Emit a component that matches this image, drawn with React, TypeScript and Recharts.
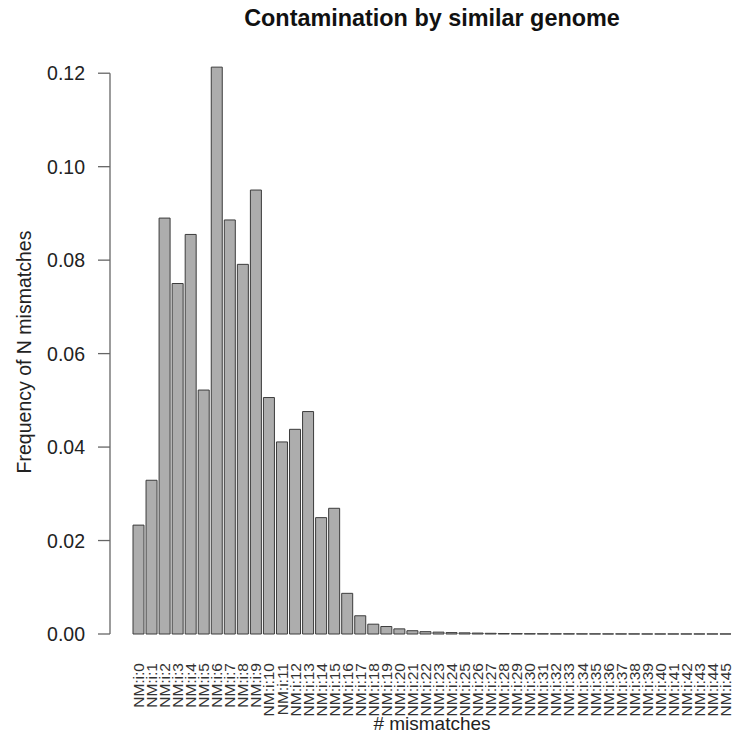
import React from 'react';
import { BarChart, Bar, XAxis, YAxis, Label } from 'recharts';

// NM:i:N tag counts, as a fraction of all reads
const categories = [
  'NM:i:0', 'NM:i:1', 'NM:i:2', 'NM:i:3', 'NM:i:4', 'NM:i:5', 'NM:i:6', 'NM:i:7',
  'NM:i:8', 'NM:i:9', 'NM:i:10', 'NM:i:11', 'NM:i:12', 'NM:i:13', 'NM:i:14', 'NM:i:15',
  'NM:i:16', 'NM:i:17', 'NM:i:18', 'NM:i:19', 'NM:i:20', 'NM:i:21', 'NM:i:22', 'NM:i:23',
  'NM:i:24', 'NM:i:25', 'NM:i:26', 'NM:i:27', 'NM:i:28', 'NM:i:29', 'NM:i:30', 'NM:i:31',
  'NM:i:32', 'NM:i:33', 'NM:i:34', 'NM:i:35', 'NM:i:36', 'NM:i:37', 'NM:i:38', 'NM:i:39',
  'NM:i:40', 'NM:i:41', 'NM:i:42', 'NM:i:43', 'NM:i:44', 'NM:i:45',
];

const frequencies = [
  0.0233, 0.0329, 0.089, 0.075, 0.0855, 0.0522, 0.1213, 0.0886,
  0.0791, 0.095, 0.0506, 0.0411, 0.0438, 0.0476, 0.0249, 0.0269,
  0.0087, 0.0039, 0.0021, 0.0016, 0.0011, 0.0007, 0.0005, 0.0004,
  0.0003, 0.00025, 0.0002, 0.00015, 0.0001, 0.00008, 0.00006, 0.00005,
  0.00004, 0.00004, 0.00003, 0.00003, 0.00002, 0.00002, 0.00002, 0.00001,
  0.00001, 0.00001, 0.00001, 0.00001, 0.00001, 0.00001,
];

const yTicks = [0, 0.02, 0.04, 0.06, 0.08, 0.1, 0.12];

const data = categories.map((name, i) => ({ name, value: frequencies[i] }));

const W = 739;
const H = 736;
const TOP = 62;
const X_AXIS_H = 102;
const Y_AXIS_W = 110;
const PAD_LEFT = 22;
const PLOT_H = H - TOP - X_AXIS_H;
const Y_MAX = 0.1224;
const TICK_SIZE = 12;
const TICK_MARGIN = 13;
const FONT = '"Liberation Sans", Arial, Helvetica, sans-serif';

const YTick = (props: any) => {
  const { x, y, payload } = props;
  const axisX = x + TICK_SIZE + TICK_MARGIN;
  const topTick = yTicks[yTicks.length - 1];
  return (
    <g>
      {payload.value === 0 && (
        <line
          x1={axisX}
          x2={axisX}
          y1={y}
          y2={y - (topTick / Y_MAX) * PLOT_H}
          stroke="#666"
          strokeWidth={1.3}
        />
      )}
      <text
        x={x}
        y={y}
        textAnchor="end"
        dominantBaseline="central"
        fontSize={19.5}
        fontFamily={FONT}
        fill="#222"
      >
        {payload.value.toFixed(2)}
      </text>
    </g>
  );
};

const XTick = (props: any) => {
  const { x, y, payload } = props;
  const ty = y + 29;
  return (
    <text
      x={x}
      y={ty}
      transform={`rotate(-90 ${x} ${ty})`}
      textAnchor="end"
      dominantBaseline="central"
      fontSize={15.5}
      fontFamily={FONT}
      fill="#333"
    >
      {payload.value}
    </text>
  );
};

export default function App() {
  return (
    <div style={{ position: 'relative', width: W, height: H, background: '#fff' }}>
      <style>{'body{margin:0}'}</style>
      <div
        style={{
          position: 'absolute',
          left: Y_AXIS_W + PAD_LEFT,
          width: W - 7 - Y_AXIS_W - PAD_LEFT,
          top: 7,
          textAlign: 'center',
          fontFamily: FONT,
          fontWeight: 'bold',
          fontSize: 23.4,
          lineHeight: 1,
          color: '#111',
          whiteSpace: 'nowrap',
        }}
      >
        Contamination by similar genome
      </div>
      <BarChart
        width={W}
        height={H}
        data={data}
        margin={{ top: TOP, right: 7, bottom: 0, left: 0 }}
      >
        <XAxis
          dataKey="name"
          interval={0}
          axisLine={false}
          tickLine={false}
          tickSize={0}
          tickMargin={0}
          height={X_AXIS_H}
          padding={{ left: PAD_LEFT, right: 0 }}
          tick={<XTick />}
        >
          <Label
            content={(p: any) => {
              const vb = p.viewBox;
              const cx = vb.x + PAD_LEFT + (vb.width - PAD_LEFT) / 2;
              return (
                <text
                  x={cx}
                  y={vb.y + vb.height - 6}
                  textAnchor="middle"
                  fontSize={19}
                  fontFamily={FONT}
                  fill="#222"
                >
                  # mismatches
                </text>
              );
            }}
          />
        </XAxis>
        <YAxis
          domain={[0, Y_MAX]}
          ticks={yTicks}
          width={Y_AXIS_W}
          axisLine={false}
          tickLine={{ stroke: '#666', strokeWidth: 1.3 }}
          tickSize={TICK_SIZE}
          tickMargin={TICK_MARGIN}
          tick={<YTick />}
        >
          <Label
            content={(p: any) => {
              const vb = p.viewBox;
              const lx = 31;
              const ly = vb.y + vb.height / 2 + 4;
              return (
                <text
                  x={lx}
                  y={ly}
                  transform={`rotate(-90 ${lx} ${ly})`}
                  textAnchor="middle"
                  fontSize={19.5}
                  fontFamily={FONT}
                  fill="#222"
                >
                  Frequency of N mismatches
                </text>
              );
            }}
          />
        </YAxis>
        <Bar
          dataKey="value"
          fill="#adadad"
          stroke="#3c3c3c"
          strokeWidth={1}
          barSize={11}
          isAnimationActive={false}
        />
      </BarChart>
    </div>
  );
}
